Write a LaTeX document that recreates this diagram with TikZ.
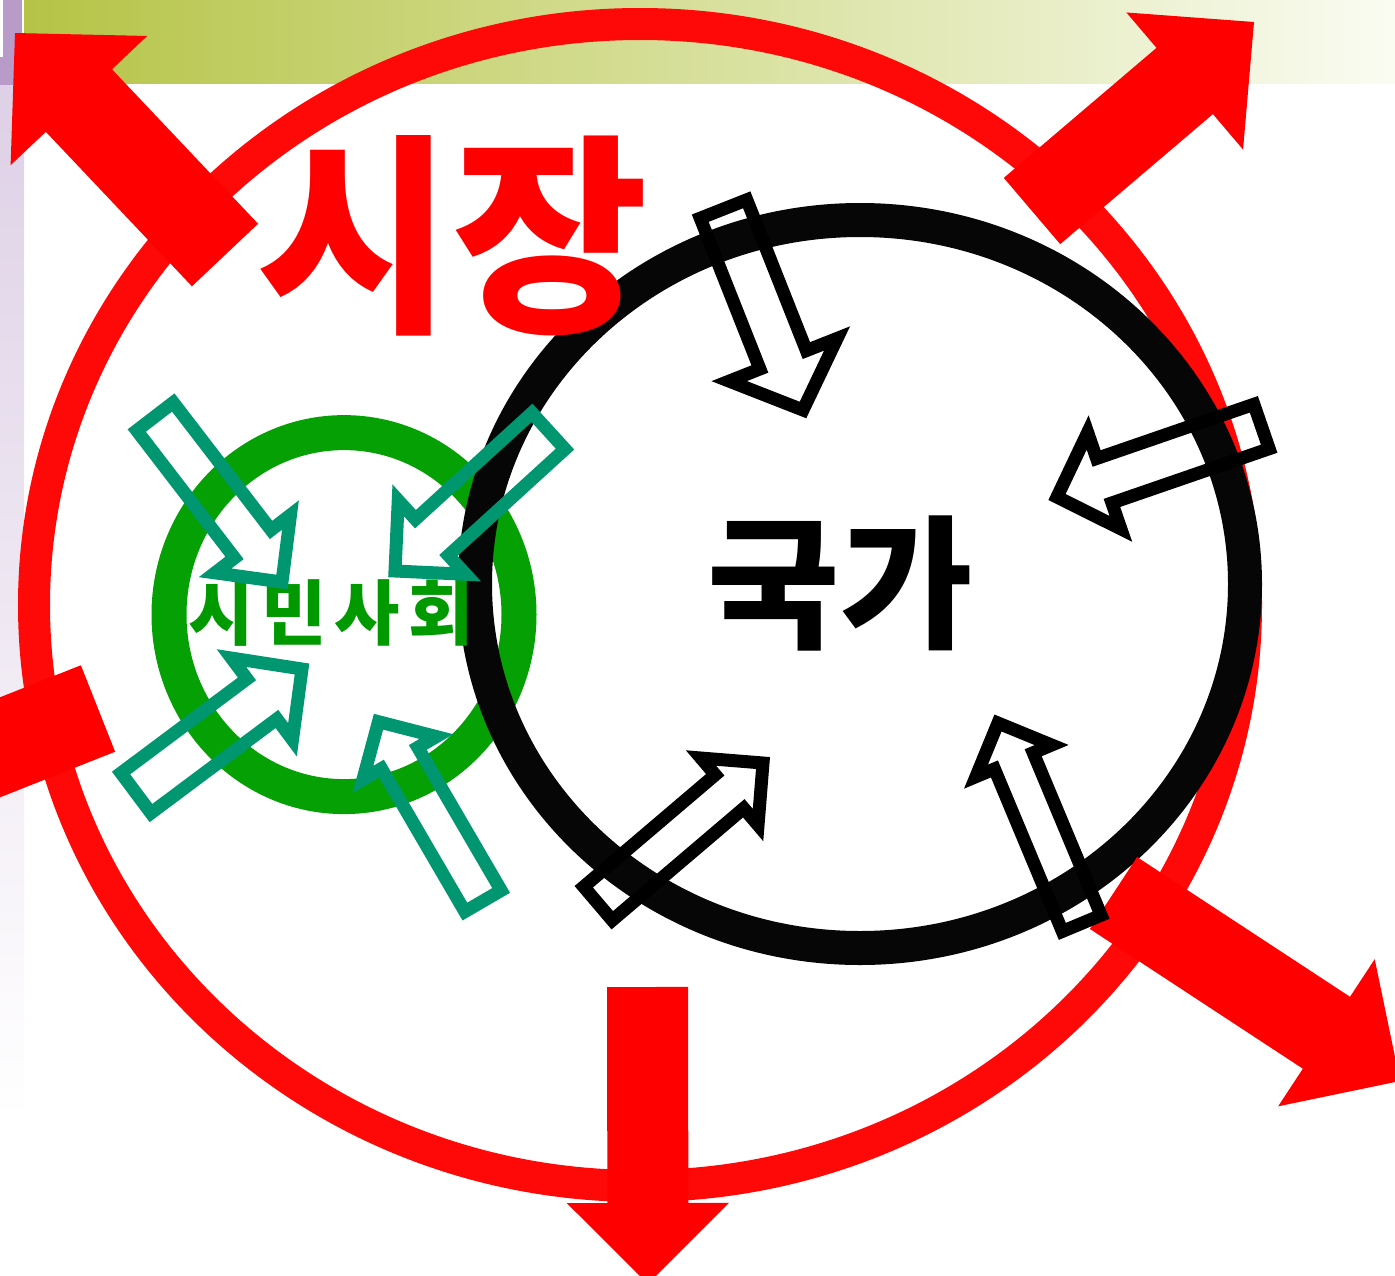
\documentclass[tikz,border=0pt]{standalone}
\usepackage{fontspec}
\newfontfamily\kr{Noto Sans CJK KR}
\usetikzlibrary{calc}
\definecolor{mred}{RGB}{255,0,0}
\definecolor{ered}{RGB}{255,8,8}
\definecolor{eblack}{RGB}{6,6,6}
\definecolor{cgreen}{RGB}{4,160,4}
\definecolor{tgreen}{RGB}{0,153,0}
\definecolor{tealarr}{RGB}{0,150,112}
\definecolor{bandL}{RGB}{181,196,70}
\definecolor{bandM}{RGB}{214,227,150}
\definecolor{bandR}{RGB}{250,252,242}
\definecolor{purD}{RGB}{184,155,200}
\definecolor{purL}{RGB}{222,208,230}
% #1 style, #2 tail, #3 tip, #4 shaft half width, #5 head half width, #6 head length
\newcommand\blockarrow[6]{%
  \coordinate (ba-m) at ($(#3)!#6pt!(#2)$);
  \path[#1] ($(#2)!#4pt!90:(#3)$) -- ($(ba-m)!#4pt!90:(#3)$) -- ($(ba-m)!#5pt!90:(#3)$) -- (#3)
    -- ($(ba-m)!#5pt!-90:(#3)$) -- ($(ba-m)!#4pt!-90:(#3)$) -- ($(#2)!#4pt!-90:(#3)$) -- cycle;}
\tikzset{
  redarrow/.style={fill=mred},
  blackarrow/.style={draw=black, line width=13pt, miter limit=20},
  tealarrow/.style={draw=tealarr, line width=13pt, miter limit=20},
  label/.style={inner sep=0pt, anchor=center}
}
\begin{document}
\begin{tikzpicture}[x=1pt, y=-1pt]
\useasboundingbox (0,0) rectangle (1395,1275);
\clip (0,0) rectangle (1395,1275);
\fill[white] (0,0) rectangle (1395,1275);
% background decorations
\shade[left color=bandL, middle color=bandM, right color=bandR] (24,0) rectangle (1395,83);
\fill[purD] (3,0) rectangle (22,57);
\fill[purD] (0,57) rectangle (22,85);
\shade[top color=purL, bottom color=white] (0,85) rectangle (24,1120);
% circles
\draw[ered, line width=32pt] (640,605) ellipse [x radius=606, y radius=581];
\draw[cgreen, line width=35pt] (344,614.6) ellipse [x radius=175, y radius=182];
\draw[eblack, line width=34pt] (860,584) ellipse [x radius=385, y radius=364];
% red arrows
\coordinate (r1a) at (225,255);    \coordinate (r1b) at (15,33);
\coordinate (r2a) at (1032,211);   \coordinate (r2b) at (1254,22);
\coordinate (r3a) at (1113.5,893); \coordinate (r3b) at (1400,1081);
\coordinate (r4a) at (647.5,987);  \coordinate (r4b) at (648,1284);
\coordinate (r5a) at (98,708.5);   \coordinate (r5b) at (-181,819);
\blockarrow{redarrow}{r1a}{r1b}{45.5}{94}{93}
\blockarrow{redarrow}{r2a}{r2b}{43.5}{90}{91}
\blockarrow{redarrow}{r3a}{r3b}{43}{88}{88}
\blockarrow{redarrow}{r4a}{r4b}{40.5}{81}{81}
\blockarrow{redarrow}{r5a}{r5b}{46.5}{95}{93}
% labels
\node[label, text=mred, font=\kr\bfseries\fontsize{213}{213}\selectfont] (sijang) at (452,236) {시장};
\node[label, text=black, font=\kr\bfseries\fontsize{144}{144}\selectfont] (gukga) at (840,583) {국가};
\node[label, text=tgreen, font=\kr\bfseries\fontsize{71}{71}\selectfont] (simin) at (331,613) {시\kern8pt 민\kern8pt 사\kern8pt 회};
% teal arrows
\coordinate (t1a) at (155,416.5); \coordinate (t1b) at (282,582);
\coordinate (t2a) at (548.5,431); \coordinate (t2b) at (395,571);
\coordinate (t3a) at (136,793);   \coordinate (t3b) at (302,669);
\coordinate (t4a) at (483,901);   \coordinate (t4b) at (378.5,721.7);
\blockarrow{tealarrow}{t1a}{t1b}{23}{47.5}{48}
\blockarrow{tealarrow}{t2a}{t2b}{24.5}{50}{50}
\blockarrow{tealarrow}{t3a}{t3b}{25}{51}{50}
\blockarrow{tealarrow}{t4a}{t4b}{21}{42.5}{42}
% black arrows
\coordinate (k1a) at (723.5,209);    \coordinate (k1b) at (803,410);
\coordinate (k2a) at (1261.5,426.5); \coordinate (k2b) at (1057,497);
\coordinate (k3a) at (598,903.5);    \coordinate (k3b) at (763,763);
\coordinate (k4a) at (1081.7,923.3); \coordinate (k4b) at (998,723);
\blockarrow{blackarrow}{k1a}{k1b}{25}{58}{54}
\blockarrow{blackarrow}{k2a}{k2b}{23.5}{51}{50}
\blockarrow{blackarrow}{k3a}{k3b}{22}{44}{44}
\blockarrow{blackarrow}{k4a}{k4b}{21}{41}{41}
\end{tikzpicture}
\end{document}
